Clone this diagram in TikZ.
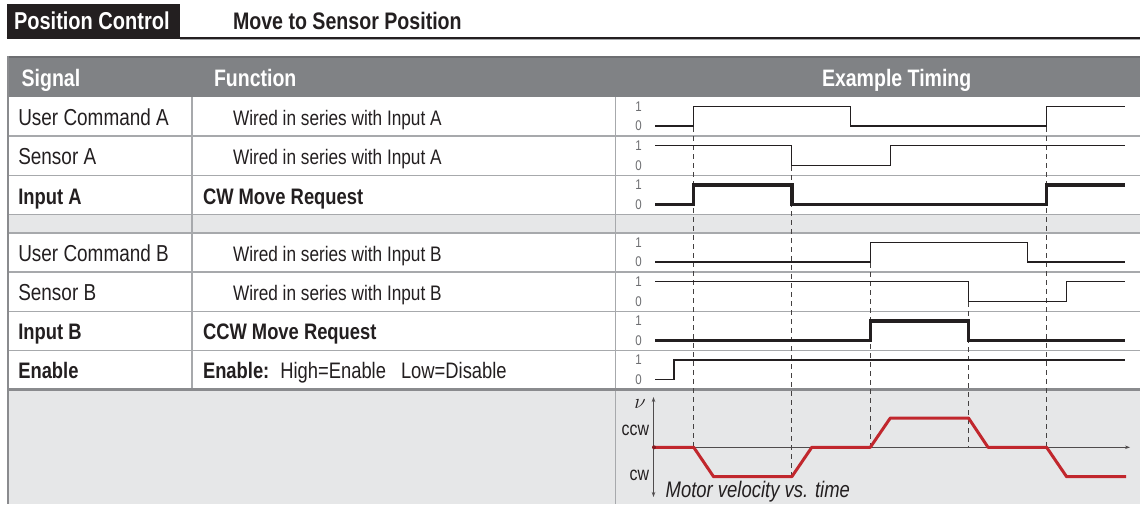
\documentclass[tikz,border=0pt]{standalone}
\usepackage{fontspec}
\setmainfont{Liberation Sans}[FakeStretch=0.82]
\usetikzlibrary{arrows.meta}
\definecolor{ink}{HTML}{231F20}
\definecolor{hdrgray}{HTML}{808285}
\definecolor{hdrdark}{HTML}{6D6E71}
\definecolor{gridgray}{HTML}{A7A9AC}
\definecolor{lightg}{HTML}{E6E7E8}
\definecolor{velred}{HTML}{C1272D}
\definecolor{lblgray}{HTML}{6D6E71}
\tikzset{
  txt/.style={inner sep=0pt, outer sep=0pt, anchor=base west, text=ink},
  hdrtxt/.style={txt, text=white, font=\fontsize{23.8}{25}\selectfont\bfseries},
  signame/.style={txt, font=\fontsize{23.1}{25}\selectfont},
  sigbold/.style={txt, font=\fontsize{22.4}{25}\selectfont\bfseries},
  functxt/.style={txt, font=\fontsize{21}{23}\selectfont},
  lvl/.style={inner sep=0pt, anchor=center, text=lblgray, font=\fontsize{14}{14}\selectfont},
  gridline/.style={draw=gridgray, line width=1.4pt},
  sigthin/.style={draw=ink, line width=1.3pt},
  sigthick/.style={draw=ink, line width=3.4pt},
  guide/.style={draw=ink!85, line width=0.9pt, dash pattern=on 5pt off 4pt},
  vel/.style={draw=velred, line width=3pt, line join=round},
  axisline/.style={draw=ink!80, line width=0.8pt}
}
\begin{document}
\begin{tikzpicture}[x=1pt,y=-1pt]
\useasboundingbox (0,0) rectangle (1140,504);
\fill[white] (0,0) rectangle (1140,504);

% title bar
\fill[ink] (6.7,4) rectangle (180,38.2);
\draw[ink, line width=2.3pt] (6.7,37.9) -- (1140,37.9);
\draw[gridgray, line width=1.1pt] (180,39.8) -- (1140,39.8);
\node[txt, text=white, font=\fontsize{24.4}{26}\selectfont\bfseries] (ttl) at (14,29.3) {Position Control};
\node[txt, font=\fontsize{23.9}{26}\selectfont\bfseries] (sub) at (233,29.3) {Move to Sensor Position};

% backgrounds
\fill[hdrgray] (7,56) rectangle (1140,96.8);
\draw[hdrdark, line width=1.6pt] (7,56.8) -- (1140,56.8);
\fill[lightg] (8,214.4) rectangle (1140,232.8);
\fill[lightg] (8,389.6) rectangle (1140,504);

% grid
\foreach \yy in {136.0,175.2,214.4,232.8,272.0,311.2,350.4}
  \draw[gridline] (8,\yy) -- (1140,\yy);
\draw[gridline] (192,96.8) -- (192,389.6);
\draw[gridline] (615.5,96.8) -- (615.5,504);
\draw[hdrdark!80, line width=2.4pt] (8,389.6) -- (1140,389.6);
\draw[hdrdark!80, line width=2.4pt] (8,56) -- (8,504);

% header
\node[hdrtxt] (hsig) at (21.7,86) {Signal};
\node[hdrtxt] (hfun) at (214,86) {Function};
\node[hdrtxt] (htim) at (822,86) {Example Timing};

% signal names
\node[signame] (n1) at (18.3,125.0) {User Command A};
\node[signame] (n2) at (18.3,164.3) {Sensor A};
\node[sigbold] (n3) at (18.3,204.0) {Input A};
\node[signame] (n4) at (18.3,261.3) {User Command B};
\node[signame] (n5) at (18.3,300.5) {Sensor B};
\node[sigbold] (n6) at (18.3,339.7) {Input B};
\node[sigbold] (n7) at (18.3,378.9) {Enable};

% functions
\node[functxt] (f1) at (233,125.0) {Wired in series with Input A};
\node[functxt] (f2) at (233,164.3) {Wired in series with Input A};
\node[sigbold] (f3) at (203,204.0) {CW Move Request};
\node[functxt] (f4) at (233,261.3) {Wired in series with Input B};
\node[functxt] (f5) at (233,300.5) {Wired in series with Input B};
\node[sigbold] (f6) at (203,339.7) {CCW Move Request};
\node[txt, font=\fontsize{22.4}{25}\selectfont] (f7) at (203,378.9) {\textbf{Enable:}\hspace{11pt}High=Enable\hspace{15pt}Low=Disable};

% level labels
\foreach \hh/\ll [count=\i] in {106.4/126.0,145.6/165.2,184.8/204.4,242.4/262.0,281.6/301.2,320.8/340.4,360.0/379.6}{
  \node[lvl] (one\i) at (638.5,\hh) {1};
  \node[lvl] (zero\i) at (638.5,\ll) {0};
}

% guide lines
\draw[guide] (693.7,127) -- (693.7,447.3);
\draw[guide] (791.8,166) -- (791.8,476.7);
\draw[guide] (870.3,263) -- (870.3,447.3);
\draw[guide] (968.5,302) -- (968.5,447.3);
\draw[guide] (1046.6,127) -- (1046.6,447.3);

% signals
\draw[sigthin] (655,126.0) -| (693.7,106.4) -| (850.3,126.0) -| (1046.6,106.4) -- (1125,106.4);
\draw[sigthin] (655,145.6) -| (791.8,165.2) -| (890.3,145.6) -- (1125,145.6);
\draw[sigthick] (655,204.4) -| (693.7,184.8) -| (791.8,204.4) -| (1046.6,184.8) -- (1125,184.8);
\draw[sigthin] (655,262.0) -| (870.3,242.4) -| (1027.3,262.0) -- (1125,262.0);
\draw[sigthin] (655,281.6) -| (968.5,301.2) -| (1066.2,281.6) -- (1125,281.6);
\draw[sigthick] (655,340.4) -| (870.3,320.8) -| (968.5,340.4) -- (1125,340.4);
\draw[sigthin] (655,379.6) -| (674,360.0) -- (1125,360.0);

% velocity axes
\coordinate (vtop) at (653.5,397);
\coordinate (vbot) at (653.5,497);
\coordinate (vorg) at (653.5,447.3);
\coordinate (vend) at (1130,447.3);
\draw[axisline, {Stealth[length=5pt,width=3.5pt]}-{Stealth[length=5pt,width=3.5pt]}] (vtop) -- (vbot);
\draw[axisline, -{Stealth[length=5pt,width=3.5pt]}] (vorg) -- (vend);
\node[inner sep=0pt, anchor=center, text=ink, font=\fontsize{22}{22}\selectfont] (nu) at (640,404) {$\nu$};
\node[txt, anchor=base east, font=\fontsize{19.4}{21}\selectfont] (ccw) at (649,435) {ccw};
\node[txt, anchor=base east, font=\fontsize{19.4}{21}\selectfont] (cw) at (649,480.7) {cw};
\node[txt, font=\fontsize{22.5}{25}\selectfont\itshape] (mv) at (665.7,497.5) {Motor velocity vs. time};

% velocity curve
\draw[vel] (654,447.3) -- (693.7,447.3) -- (713.6,476.7) -- (791.8,476.7) -- (811.8,447.3) -- (870.3,447.3) -- (890.3,418) -- (968.5,418) -- (988,447.3) -- (1046.6,447.3) -- (1066.6,476.7) -- (1126,476.7);
\fill[velred!70!black] (654,447.3) circle (2pt);
\end{tikzpicture}
\end{document}
